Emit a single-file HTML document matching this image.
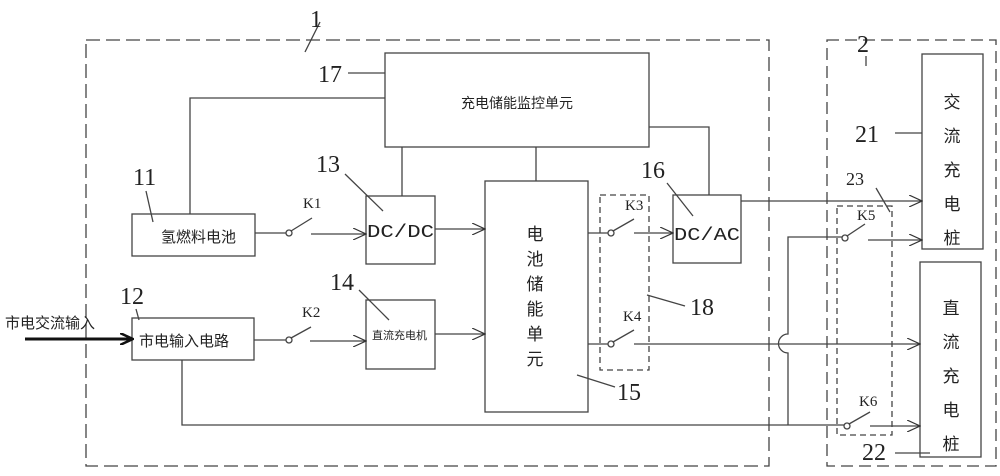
<!DOCTYPE html>
<html><head><meta charset="utf-8"><style>
html,body{margin:0;padding:0;background:#fff;}
svg{display:block}
text{font-family:"Liberation Serif","Noto Serif CJK SC",serif;fill:#222}
.c{font-family:"Liberation Sans","Noto Sans CJK SC",sans-serif}
.m{font-family:"Liberation Mono",monospace}
</style></head><body>
<svg width="1000" height="476" viewBox="0 0 1000 476" xmlns="http://www.w3.org/2000/svg">
<defs><marker id="a" markerWidth="14" markerHeight="12" refX="13" refY="6" orient="auto" markerUnits="userSpaceOnUse"><path d="M0,0 L13,6 L0,12" fill="none" stroke="#333" stroke-width="1.2"/></marker>
<marker id="b" markerWidth="14" markerHeight="12" refX="12" refY="6" orient="auto" markerUnits="userSpaceOnUse"><path d="M0,0 L13,6 L0,12" fill="none" stroke="#111" stroke-width="2.5"/></marker></defs>
<g fill="none" stroke="#444" stroke-width="1.3">
<rect x="86" y="40" width="683" height="426" stroke-dasharray="14,6"/>
<rect x="827" y="40" width="169" height="426" stroke-dasharray="12,6"/>
<rect x="600" y="195" width="49" height="175" stroke-dasharray="6,4"/>
<rect x="837" y="206" width="55" height="229" stroke-dasharray="6,4"/>
<rect x="385" y="53" width="264" height="94"/>
<rect x="132" y="214" width="123" height="42"/>
<rect x="132" y="318" width="122" height="42"/>
<rect x="366" y="196" width="69" height="68"/>
<rect x="366" y="300" width="69" height="69"/>
<rect x="485" y="181" width="103" height="231"/>
<rect x="673" y="195" width="68" height="68"/>
<rect x="922" y="54" width="61" height="195"/>
<rect x="920" y="262" width="61" height="195"/>
<polyline points="385,98 190,98 190,214"/>
<polyline points="649,127 709,127 709,195"/>
<line x1="402" y1="147" x2="402" y2="196"/>
<line x1="536" y1="147" x2="536" y2="181"/>
<line x1="255" y1="233" x2="286" y2="233"/><circle cx="289" cy="233" r="3"/><line x1="291" y1="231" x2="312" y2="218"/>
<line x1="311" y1="234" x2="366" y2="234" marker-end="url(#a)"/>
<line x1="435" y1="229" x2="485" y2="229" marker-end="url(#a)"/>
<line x1="254" y1="340" x2="286" y2="340"/><circle cx="289" cy="340" r="3"/><line x1="291" y1="338" x2="311" y2="327"/>
<line x1="310" y1="341" x2="366" y2="341" marker-end="url(#a)"/>
<line x1="435" y1="334" x2="485" y2="334" marker-end="url(#a)"/>
<line x1="588" y1="233" x2="608" y2="233"/><circle cx="611" cy="233" r="3"/><line x1="613" y1="231" x2="634" y2="219"/>
<line x1="634" y1="233" x2="673" y2="233" marker-end="url(#a)"/>
<line x1="741" y1="201" x2="922" y2="201" marker-end="url(#a)"/>
<line x1="588" y1="344" x2="608" y2="344"/><circle cx="611" cy="344" r="3"/><line x1="613" y1="342" x2="634" y2="330"/>
<line x1="634" y1="344" x2="920" y2="344" marker-end="url(#a)"/>
<path d="M842,237 L788,237 L788,334 A9,9 0 0 0 788,353 L788,425"/>
<circle cx="845" cy="238" r="3"/><line x1="847" y1="236" x2="865" y2="224"/>
<line x1="868" y1="240" x2="922" y2="240" marker-end="url(#a)"/>
<polyline points="182,360 182,425 844,425"/>
<circle cx="847" cy="426" r="3"/><line x1="849" y1="424" x2="870" y2="412"/>
<line x1="870" y1="426" x2="920" y2="426" marker-end="url(#a)"/>
<line x1="305" y1="52" x2="320" y2="22"/>
<line x1="866" y1="56" x2="866" y2="66"/>
<line x1="348" y1="73" x2="385" y2="73"/>
<line x1="895" y1="133" x2="922" y2="133"/>
<line x1="146" y1="191" x2="153" y2="222"/>
<line x1="345" y1="174" x2="383" y2="211"/>
<line x1="136" y1="309" x2="139" y2="320"/>
<line x1="359" y1="290" x2="389" y2="320"/>
<line x1="667" y1="183" x2="693" y2="216"/>
<line x1="647" y1="295" x2="685" y2="306"/>
<line x1="577" y1="375" x2="615" y2="387"/>
<line x1="876" y1="188" x2="890" y2="212"/>
<line x1="895" y1="453" x2="930" y2="453"/>
</g>
<line x1="25" y1="339" x2="132" y2="339" stroke="#111" stroke-width="3" marker-end="url(#b)"/>
<g font-size="24">
<text x="310" y="27">1</text>
<text x="857" y="52">2</text>
<text x="318" y="82">17</text>
<text x="855" y="142">21</text>
<text x="133" y="185">11</text>
<text x="316" y="172">13</text>
<text x="120" y="304">12</text>
<text x="330" y="290">14</text>
<text x="641" y="178">16</text>
<text x="690" y="315">18</text>
<text x="617" y="400">15</text>
<text x="862" y="460">22</text>
<text x="846" y="185" font-size="18">23</text>
</g>
<g font-size="15">
<text x="303" y="208">K1</text><text x="302" y="317">K2</text>
<text x="625" y="210">K3</text><text x="623" y="321">K4</text>
<text x="857" y="220">K5</text><text x="859" y="406">K6</text>
</g>
<text x="517" y="108" font-size="14" class="c" text-anchor="middle">充电储能监控单元</text>
<text x="161" y="242" font-size="15" class="c">氢燃料电池</text>
<text x="139" y="346" font-size="15" class="c">市电输入电路</text>
<text x="5" y="328" font-size="15" class="c">市电交流输入</text>
<text x="367" y="237" font-size="18" class="m" textLength="67" lengthAdjust="spacingAndGlyphs">DC/DC</text>
<text x="674" y="240" font-size="18" class="m" textLength="66" lengthAdjust="spacingAndGlyphs">DC/AC</text>
<text x="372" y="339" font-size="11" class="c">直流充电机</text>
<g font-size="17" text-anchor="middle">
<text x="535" y="240" class="c">电</text><text x="535" y="265" class="c">池</text><text x="535" y="290" class="c">储</text><text x="535" y="315" class="c">能</text><text x="535" y="340" class="c">单</text><text x="535" y="365" class="c">元</text>
<text x="952" y="108" class="c">交</text><text x="952" y="142" class="c">流</text><text x="952" y="176" class="c">充</text><text x="952" y="210" class="c">电</text><text x="952" y="244" class="c">桩</text>
<text x="951" y="314" class="c">直</text><text x="951" y="348" class="c">流</text><text x="951" y="382" class="c">充</text><text x="951" y="416" class="c">电</text><text x="951" y="450" class="c">桩</text>
</g>
</svg>
</body></html>
